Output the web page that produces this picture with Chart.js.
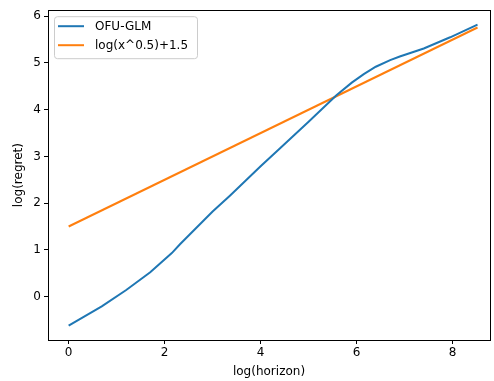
<!DOCTYPE html>
<html>
<head>
<meta charset="utf-8">
<script src="https://cdn.jsdelivr.net/npm/chart.js@4"></script>
<style>
  html, body { margin: 0; padding: 0; background: #fff; }
  #wrap { width: 494px; height: 381px; }
</style>
</head>
<body>
<div id="wrap"><canvas id="myChart" width="494" height="381"></canvas></div>
<script>
// log(horizon) vs log(regret)
const ofuX = [0, 0.69, 1.2, 1.7, 2.15, 2.32, 3.0, 3.36, 4.0, 4.4, 5.0, 5.58, 5.9, 6.15, 6.4, 6.7, 6.9, 7.4, 7.95, 8.52];
const ofuY = [-0.62, -0.21, 0.14, 0.52, 0.93, 1.12, 1.82, 2.16, 2.79, 3.17, 3.74, 4.31, 4.58, 4.76, 4.92, 5.06, 5.14, 5.31, 5.55, 5.82];
const refX = [0, 8.52];
const refY = [1.5, 5.76];
const xTicks = [0, 2, 4, 6, 8];
const yTicks = [0, 1, 2, 3, 4, 5, 6];

const font = { family: 'DejaVu Sans', size: 12 };

const frame = {
    id: 'frame',
    afterDraw(chart) {
        const { ctx, chartArea: a } = chart;
        ctx.save();
        ctx.strokeStyle = '#000';
        ctx.lineWidth = 1;
        ctx.strokeRect(Math.round(a.left) + 0.5, Math.round(a.top) + 0.5,
            Math.round(a.right - a.left), Math.round(a.bottom - a.top));

        // legend box, upper left like matplotlib
        const x0 = a.left + 6, y0 = a.top + 6, w = 143, h = 42;
        ctx.fillStyle = 'rgba(255,255,255,0.8)';
        ctx.strokeStyle = '#cccccc';
        ctx.beginPath();
        ctx.roundRect(x0 + 0.5, y0 + 0.5, w, h, 3);
        ctx.fill();
        ctx.stroke();
        ctx.font = '12px "DejaVu Sans"';
        ctx.textBaseline = 'middle';
        chart.data.datasets.forEach((ds, i) => {
            const y = y0 + 10 + i * 19;
            ctx.strokeStyle = ds.borderColor;
            ctx.lineWidth = 2;
            ctx.beginPath();
            ctx.moveTo(x0 + 4, y);
            ctx.lineTo(x0 + 30, y);
            ctx.stroke();
            ctx.fillStyle = '#000';
            ctx.fillText(ds.label, x0 + 41, y + 1);
        });
        ctx.restore();
    }
};

const ctx = document.getElementById('myChart').getContext('2d');
const myChart = new Chart(ctx, {
    type: 'line',
    data: {
        datasets: [{
            label: 'OFU-GLM',
            data: ofuX.map((x, i) => ({ x: x, y: ofuY[i] })),
            borderColor: '#1f77b4',
            borderWidth: 2,
            pointRadius: 0,
            tension: 0
        }, {
            label: 'log(x^0.5)+1.5',
            data: refX.map((x, i) => ({ x: x, y: refY[i] })),
            borderColor: '#ff7f0e',
            borderWidth: 2,
            pointRadius: 0,
            tension: 0
        }]
    },
    options: {
        responsive: false,
        animation: false,
        layout: { padding: { top: 4, right: 4, left: 0, bottom: 0 } },
        plugins: {
            legend: { display: false },
            tooltip: { enabled: false }
        },
        scales: {
            x: {
                type: 'linear',
                min: -0.43,
                max: 8.78,
                afterBuildTicks: s => { s.ticks = xTicks.map(v => ({ value: v })); },
                afterFit: s => { s.height = 41; },
                grid: { drawOnChartArea: false, drawTicks: true, tickLength: 4, tickColor: '#000' },
                border: { color: '#000' },
                ticks: { color: '#000', font: font, padding: 2, maxRotation: 0 },
                title: { display: true, text: 'log(horizon)', color: '#000', font: font, padding: { top: 0, bottom: 2 } }
            },
            y: {
                type: 'linear',
                min: -0.93,
                max: 6.13,
                afterBuildTicks: s => { s.ticks = yTicks.map(v => ({ value: v })); },
                afterFit: s => { s.width = 48; },
                grid: { drawOnChartArea: false, drawTicks: true, tickLength: 4, tickColor: '#000' },
                border: { color: '#000' },
                ticks: { color: '#000', font: font, padding: 3 },
                title: { display: true, text: 'log(regret)', color: '#000', font: font, padding: { top: 12, bottom: 4 } }
            }
        }
    },
    plugins: [frame]
});
</script>
</body>
</html>
